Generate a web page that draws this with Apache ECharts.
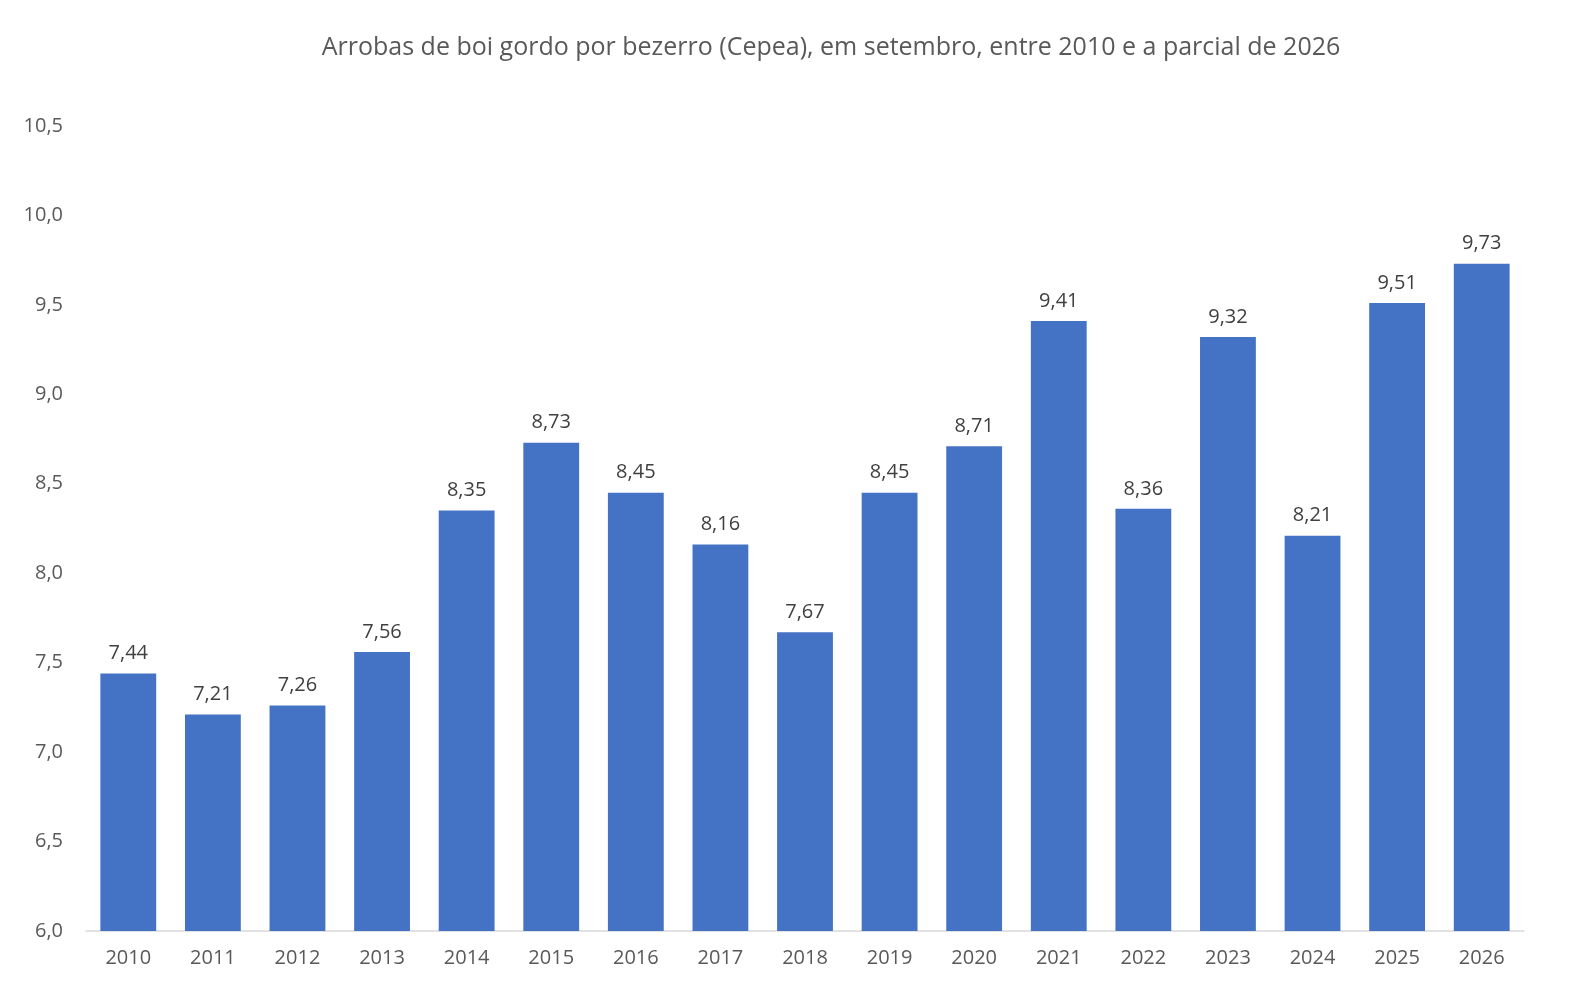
<!DOCTYPE html>
<html>
<head>
<meta charset="utf-8">
<script src="https://cdn.jsdelivr.net/npm/echarts@6/dist/echarts.min.js"></script>
<style>
  html, body { margin: 0; padding: 0; background: #fff; }
  #chart { width: 1581px; height: 986px; }
</style>
</head>
<body>
<div id="chart"></div>
<script>
// anos e arrobas por bezerro
const years = ['2010', '2011', '2012', '2013', '2014', '2015', '2016', '2017', '2018',
  '2019', '2020', '2021', '2022', '2023', '2024', '2025', '2026'];
const arrobas = [7.44, 7.21, 7.26, 7.56, 8.35, 8.73, 8.45, 8.16, 7.67,
  8.45, 8.71, 9.41, 8.36, 9.32, 8.21, 9.51, 9.73];
const yMin = 6.0;
const yMax = 10.5;
const yStep = 0.5;

const fmt = v => v.toFixed(2).replace('.', ',');

let chart = echarts.init(document.getElementById('chart'));
let option = {
  backgroundColor: '#fff',
  title: {
    text: 'Arrobas de boi gordo por bezerro (Cepea), em setembro, entre 2010 e a parcial de 2026',
    left: 826,
    textAlign: 'center',
    top: 30,
    textStyle: {
      color: '#595959',
      fontFamily: 'Open Sans',
      fontSize: 25,
      fontWeight: 'normal'
    }
  },
  grid: {
    left: 86,
    right: 57,
    top: 126,
    bottom: 55
  },
  xAxis: {
    type: 'category',
    data: years,
    axisTick: { show: false },
    axisLine: { lineStyle: { color: '#d9d9d9', width: 1.5 } },
    axisLabel: {
      color: '#595959',
      fontFamily: 'Open Sans',
      fontSize: 20,
      margin: 17
    }
  },
  yAxis: {
    type: 'value',
    min: yMin,
    max: yMax,
    interval: yStep,
    splitLine: { show: false },
    axisLine: { show: false },
    axisTick: { show: false },
    axisLabel: {
      color: '#595959',
      fontFamily: 'Open Sans',
      fontSize: 20,
      margin: 23,
      formatter: v => v.toFixed(1).replace('.', ',')
    }
  },
  series: [{
    type: 'bar',
    data: arrobas,
    barCategoryGap: '34%',
    itemStyle: { color: '#4472C4' },
    label: {
      show: true,
      position: 'top',
      distance: 10,
      color: '#404040',
      fontFamily: 'Open Sans',
      fontSize: 20,
      formatter: p => fmt(p.value)
    }
  }]
};
chart.setOption(option);
</script>
</body>
</html>
